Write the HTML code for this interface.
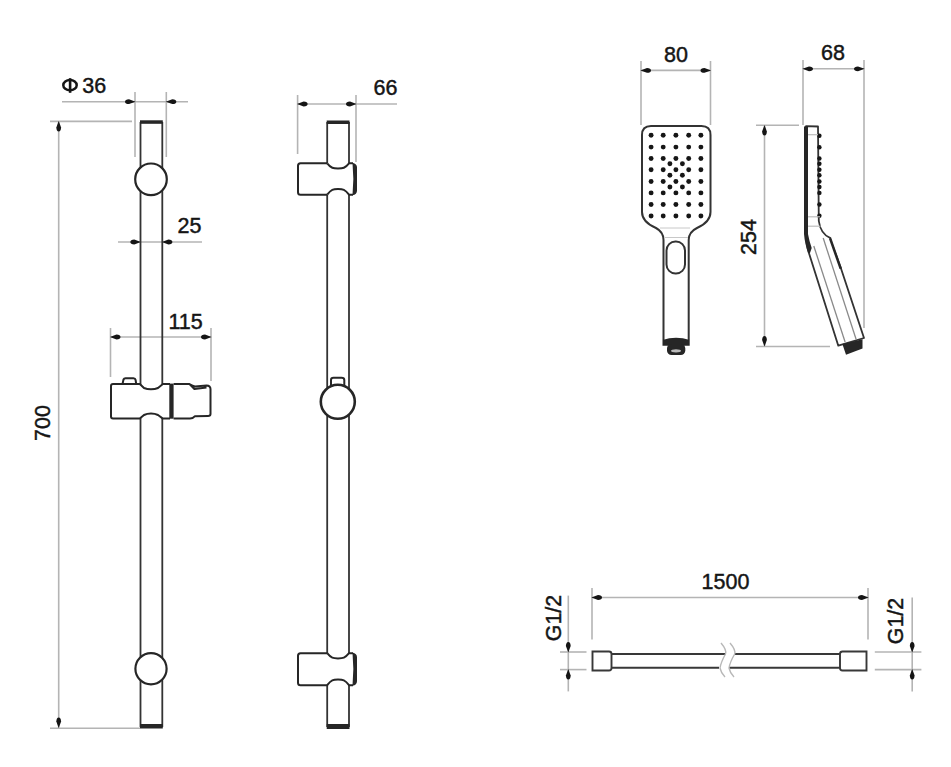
<!DOCTYPE html>
<html><head><meta charset="utf-8"><style>
html,body{margin:0;padding:0;background:#fff;width:951px;height:767px;overflow:hidden}
text{font-family:"Liberation Sans",sans-serif}
</style></head><body>
<svg width="951" height="767" viewBox="0 0 951 767" style="display:block" font-family="Liberation Sans, sans-serif">
<rect width="951" height="767" fill="#fff"/>
<line x1="62" y1="101.7" x2="188" y2="101.7" stroke="#b4b4b4" stroke-width="1.6"/>
<line x1="135" y1="92" x2="135" y2="157" stroke="#b4b4b4" stroke-width="1.6"/>
<line x1="166.3" y1="92" x2="166.3" y2="157" stroke="#b4b4b4" stroke-width="1.6"/>
<path d="M0.6,0 L-6.00,-2.4 Q-10,-2.16 -10,0 Q-10,2.16 -6.00,2.4 Z" transform="translate(135,101.7) rotate(0)" fill="#151515"/>
<path d="M0.6,0 L-6.00,-2.4 Q-10,-2.16 -10,0 Q-10,2.16 -6.00,2.4 Z" transform="translate(166.3,101.7) rotate(180)" fill="#151515"/>
<ellipse cx="70" cy="85.2" rx="6.7" ry="5.1" fill="none" stroke="#151515" stroke-width="2.5"/>
<line x1="70.1" y1="78.2" x2="70.1" y2="92.8" stroke="#151515" stroke-width="2.6"/>
<text x="82.3" y="93" font-size="21.5" text-anchor="start" fill="#151515" stroke="#151515" stroke-width="0.45">36</text>
<line x1="58.7" y1="121" x2="58.7" y2="728" stroke="#b4b4b4" stroke-width="1.6"/>
<line x1="50" y1="121.4" x2="132" y2="121.4" stroke="#b4b4b4" stroke-width="1.6"/>
<line x1="50" y1="728.2" x2="140" y2="728.2" stroke="#b4b4b4" stroke-width="1.6"/>
<path d="M0.6,0 L-6.00,-2.4 Q-10,-2.16 -10,0 Q-10,2.16 -6.00,2.4 Z" transform="translate(58.7,121.5) rotate(270)" fill="#151515"/>
<path d="M0.6,0 L-6.00,-2.4 Q-10,-2.16 -10,0 Q-10,2.16 -6.00,2.4 Z" transform="translate(58.7,727.5) rotate(90)" fill="#151515"/>
<text x="0" y="0" transform="translate(50.2,423) rotate(-90)" font-size="21.5" text-anchor="middle" fill="#151515" stroke="#151515" stroke-width="0.45">700</text>
<line x1="118" y1="242" x2="202" y2="242" stroke="#b4b4b4" stroke-width="1.6"/>
<path d="M0.6,0 L-6.00,-2.4 Q-10,-2.16 -10,0 Q-10,2.16 -6.00,2.4 Z" transform="translate(140.3,242) rotate(0)" fill="#151515"/>
<path d="M0.6,0 L-6.00,-2.4 Q-10,-2.16 -10,0 Q-10,2.16 -6.00,2.4 Z" transform="translate(162.4,242) rotate(180)" fill="#151515"/>
<text x="177.5" y="233" font-size="21.5" text-anchor="start" fill="#151515" stroke="#151515" stroke-width="0.45">25</text>
<line x1="110.5" y1="337" x2="211" y2="337" stroke="#b4b4b4" stroke-width="1.6"/>
<line x1="110.5" y1="328" x2="110.5" y2="377" stroke="#b4b4b4" stroke-width="1.6"/>
<line x1="211" y1="328" x2="211" y2="381" stroke="#b4b4b4" stroke-width="1.6"/>
<path d="M0.6,0 L-6.00,-2.4 Q-10,-2.16 -10,0 Q-10,2.16 -6.00,2.4 Z" transform="translate(110.5,337) rotate(180)" fill="#151515"/>
<path d="M0.6,0 L-6.00,-2.4 Q-10,-2.16 -10,0 Q-10,2.16 -6.00,2.4 Z" transform="translate(211,337) rotate(0)" fill="#151515"/>
<text x="168.5" y="328.5" font-size="21.5" text-anchor="start" fill="#151515" stroke="#151515" stroke-width="0.45">115</text>
<line x1="297.6" y1="104" x2="397" y2="104" stroke="#b4b4b4" stroke-width="1.6"/>
<line x1="297.6" y1="95" x2="297.6" y2="154" stroke="#b4b4b4" stroke-width="1.6"/>
<line x1="356" y1="95" x2="356" y2="162" stroke="#b4b4b4" stroke-width="1.6"/>
<path d="M0.6,0 L-6.00,-2.4 Q-10,-2.16 -10,0 Q-10,2.16 -6.00,2.4 Z" transform="translate(297.6,104) rotate(180)" fill="#151515"/>
<path d="M0.6,0 L-6.00,-2.4 Q-10,-2.16 -10,0 Q-10,2.16 -6.00,2.4 Z" transform="translate(356,104) rotate(0)" fill="#151515"/>
<text x="373.5" y="95.3" font-size="21.5" text-anchor="start" fill="#151515" stroke="#151515" stroke-width="0.45">66</text>
<line x1="641" y1="70.4" x2="710.5" y2="70.4" stroke="#b4b4b4" stroke-width="1.6"/>
<line x1="641" y1="61" x2="641" y2="125" stroke="#b4b4b4" stroke-width="1.6"/>
<line x1="710.5" y1="61" x2="710.5" y2="125" stroke="#b4b4b4" stroke-width="1.6"/>
<path d="M0.6,0 L-6.00,-2.4 Q-10,-2.16 -10,0 Q-10,2.16 -6.00,2.4 Z" transform="translate(641,70.4) rotate(180)" fill="#151515"/>
<path d="M0.6,0 L-6.00,-2.4 Q-10,-2.16 -10,0 Q-10,2.16 -6.00,2.4 Z" transform="translate(710.5,70.4) rotate(0)" fill="#151515"/>
<text x="676" y="62" font-size="21.5" text-anchor="middle" fill="#151515" stroke="#151515" stroke-width="0.45">80</text>
<line x1="803" y1="68.8" x2="864" y2="68.8" stroke="#b4b4b4" stroke-width="1.6"/>
<line x1="803" y1="60" x2="803" y2="125" stroke="#b4b4b4" stroke-width="1.6"/>
<line x1="864" y1="60" x2="864" y2="328" stroke="#b4b4b4" stroke-width="1.6"/>
<path d="M0.6,0 L-6.00,-2.4 Q-10,-2.16 -10,0 Q-10,2.16 -6.00,2.4 Z" transform="translate(803,68.8) rotate(180)" fill="#151515"/>
<path d="M0.6,0 L-6.00,-2.4 Q-10,-2.16 -10,0 Q-10,2.16 -6.00,2.4 Z" transform="translate(864,68.8) rotate(0)" fill="#151515"/>
<text x="833" y="60" font-size="21.5" text-anchor="middle" fill="#151515" stroke="#151515" stroke-width="0.45">68</text>
<line x1="764.5" y1="125" x2="764.5" y2="346" stroke="#b4b4b4" stroke-width="1.6"/>
<line x1="756" y1="125.3" x2="799" y2="125.3" stroke="#b4b4b4" stroke-width="1.6"/>
<line x1="756" y1="346.5" x2="830" y2="346.5" stroke="#b4b4b4" stroke-width="1.6"/>
<path d="M0.6,0 L-6.00,-2.4 Q-10,-2.16 -10,0 Q-10,2.16 -6.00,2.4 Z" transform="translate(764.5,125.5) rotate(270)" fill="#151515"/>
<path d="M0.6,0 L-6.00,-2.4 Q-10,-2.16 -10,0 Q-10,2.16 -6.00,2.4 Z" transform="translate(764.5,346) rotate(90)" fill="#151515"/>
<text x="0" y="0" transform="translate(755.8,237) rotate(-90)" font-size="21.5" text-anchor="middle" fill="#151515" stroke="#151515" stroke-width="0.45">254</text>
<line x1="592" y1="597.5" x2="868" y2="597.5" stroke="#b4b4b4" stroke-width="1.6"/>
<line x1="592" y1="588" x2="592" y2="639.5" stroke="#b4b4b4" stroke-width="1.6"/>
<line x1="868" y1="588" x2="868" y2="639.5" stroke="#b4b4b4" stroke-width="1.6"/>
<path d="M0.6,0 L-6.00,-2.4 Q-10,-2.16 -10,0 Q-10,2.16 -6.00,2.4 Z" transform="translate(592,597.5) rotate(180)" fill="#151515"/>
<path d="M0.6,0 L-6.00,-2.4 Q-10,-2.16 -10,0 Q-10,2.16 -6.00,2.4 Z" transform="translate(868,597.5) rotate(0)" fill="#151515"/>
<text x="725.5" y="589.3" font-size="21.5" text-anchor="middle" fill="#151515" stroke="#151515" stroke-width="0.45">1500</text>
<line x1="568.3" y1="595.6" x2="568.3" y2="691.4" stroke="#b4b4b4" stroke-width="1.6"/>
<line x1="560" y1="652" x2="586.5" y2="652" stroke="#b4b4b4" stroke-width="1.6"/>
<line x1="560" y1="669.6" x2="586.5" y2="669.6" stroke="#b4b4b4" stroke-width="1.6"/>
<path d="M0.6,0 L-6.00,-2.4 Q-10,-2.16 -10,0 Q-10,2.16 -6.00,2.4 Z" transform="translate(568.3,652) rotate(90)" fill="#151515"/>
<path d="M0.6,0 L-6.00,-2.4 Q-10,-2.16 -10,0 Q-10,2.16 -6.00,2.4 Z" transform="translate(568.3,669.6) rotate(270)" fill="#151515"/>
<text x="0" y="0" transform="translate(560.6,618) rotate(-90)" font-size="21.5" text-anchor="middle" fill="#151515" stroke="#151515" stroke-width="0.45">G1/2</text>
<line x1="912.2" y1="597.4" x2="912.2" y2="691.5" stroke="#b4b4b4" stroke-width="1.6"/>
<line x1="874.8" y1="652" x2="921.4" y2="652" stroke="#b4b4b4" stroke-width="1.6"/>
<line x1="874.8" y1="669.6" x2="921.4" y2="669.6" stroke="#b4b4b4" stroke-width="1.6"/>
<path d="M0.6,0 L-6.00,-2.4 Q-10,-2.16 -10,0 Q-10,2.16 -6.00,2.4 Z" transform="translate(912.2,652) rotate(90)" fill="#151515"/>
<path d="M0.6,0 L-6.00,-2.4 Q-10,-2.16 -10,0 Q-10,2.16 -6.00,2.4 Z" transform="translate(912.2,669.6) rotate(270)" fill="#151515"/>
<text x="0" y="0" transform="translate(903,621) rotate(-90)" font-size="21.5" text-anchor="middle" fill="#151515" stroke="#151515" stroke-width="0.45">G1/2</text>
<g stroke="#333" stroke-width="1.8" fill="none">
<path d="M140.5,122 V175 M162.3,122 V175"/>
<path d="M140.5,184 V385 M162.3,185 V385"/>
<path d="M140.5,418 V665 M162.3,418 V665"/>
<path d="M140.5,673 V727 M162.3,673 V727"/>
</g>
<rect x="140.0" y="120.3" width="22.80000000000001" height="3.5" fill="#262626"/>
<rect x="140.0" y="724" width="22.80000000000001" height="4.5" fill="#262626"/>
<circle cx="151" cy="179.3" r="15.8" fill="#fff" stroke="#262626" stroke-width="2.2"/>
<circle cx="151" cy="668.7" r="15.6" fill="#fff" stroke="#262626" stroke-width="2.2"/>
<g stroke="#262626" stroke-width="2" fill="none" stroke-linejoin="round">
<path d="M113,384 H139.8 L144,388 Q147,389.3 151,389.3 Q155,389.3 158,388 L162.9,384 H170 M113,384 Q111,384 111,386 V416.6 Q111,418.6 113,418.6 H139.8 L144,415 Q147,413.5 151,413.5 Q155,413.5 158,415 L162.9,418.6 H170"/>
<path d="M122.5,384 L123.5,379.5 Q124,378.3 125.5,378.3 H133.5 Q135.3,378.3 135.6,380 L136.2,384"/>
<path d="M173.6,384 H189.4 Q192,386.5 194.4,389 L206.5,387.6 M189.4,384.2 Q193,386 195,386.5 L206.5,385.4 Q210.5,385.5 210.5,389 V414 Q210.5,416 208,416 L195,416.2 Q193,418.6 190,418.6 H173.6"/>
</g>
<rect x="169.3" y="383.6" width="4.3" height="35.1" fill="#262626"/>
<g stroke="#333" stroke-width="1.8" fill="none">
<path d="M327.2,122 V163 M349,122 V163"/>
<path d="M327.2,195 V395 M349,195 V395"/>
<path d="M327.2,408 V653 M349,408 V653"/>
<path d="M327.2,685 V727 M349,685 V727"/>
</g>
<rect x="326.7" y="120.5" width="22.80000000000001" height="3.5" fill="#262626"/>
<rect x="326.7" y="724" width="22.80000000000001" height="5" fill="#262626"/>
<g stroke="#262626" stroke-width="2" fill="none" stroke-linejoin="round">
<path d="M327.2,163.3 H300.5 Q298,163.3 298,165.8 V192.2 Q298,194.7 300.5,194.7 H327.2"/>
<path d="M327.2,163.3 C331.2,168.3 333.2,168.5 338,168.5 C343,168.5 345,168.3 349,163.3 H353"/>
<path d="M327.2,194.7 C331.2,189.2 333.2,189.0 338,189.0 C343,189.0 345,189.2 349,194.7 H353"/>
</g>
<path d="M352.5,162.70000000000002 Q357,163.8 357,167.3 V190.7 Q357,194.2 352.5,195.29999999999998 Q354.2,179.0 352.5,162.70000000000002 Z" fill="#262626"/>
<g stroke="#262626" stroke-width="2" fill="none" stroke-linejoin="round">
<path d="M327.2,653.2 H300.5 Q298,653.2 298,655.7 V682.7 Q298,685.2 300.5,685.2 H327.2"/>
<path d="M327.2,653.2 C331.2,658.2 333.2,658.4000000000001 338,658.4000000000001 C343,658.4000000000001 345,658.2 349,653.2 H353"/>
<path d="M327.2,685.2 C331.2,679.7 333.2,679.5 338,679.5 C343,679.5 345,679.7 349,685.2 H353"/>
</g>
<path d="M352.5,652.6 Q357,653.7 357,657.2 V681.2 Q357,684.7 352.5,685.8000000000001 Q354.2,669.2 352.5,652.6 Z" fill="#262626"/>
<path d="M331,386 V380 Q331,377.8 333.5,377.8 H341.5 Q344.3,377.8 344.3,380 V386" stroke="#262626" stroke-width="2" fill="none"/>
<circle cx="337.8" cy="401.8" r="17" fill="#fff" stroke="#262626" stroke-width="2.6"/>
<g stroke="#333" stroke-width="2" fill="none" stroke-linejoin="round">
<path d="M663.5,340 V240 Q663.5,232 656,228 Q642,222 642,212 V135 Q642,126 651,126 H701.5 Q710.5,126 710.5,135 V212 Q710.5,222 697,228 Q688.7,232 688.7,240 V340"/>
<rect x="666.5" y="241.5" width="18.5" height="32" rx="9" ry="9"/>
</g>
<line x1="660" y1="228" x2="690" y2="228" stroke="#c8c8c8" stroke-width="1"/>
<line x1="665" y1="237.5" x2="688" y2="237.5" stroke="#c8c8c8" stroke-width="1"/>
<circle cx="651.1" cy="135.3" r="2.45" fill="#161616"/>
<circle cx="663.2" cy="135.3" r="2.45" fill="#161616"/>
<circle cx="675.9" cy="135.3" r="2.45" fill="#161616"/>
<circle cx="688.7" cy="135.3" r="2.45" fill="#161616"/>
<circle cx="700.9" cy="135.3" r="2.45" fill="#161616"/>
<circle cx="651.1" cy="147.1" r="2.45" fill="#161616"/>
<circle cx="663.2" cy="147.1" r="2.45" fill="#161616"/>
<circle cx="675.9" cy="147.1" r="2.45" fill="#161616"/>
<circle cx="688.7" cy="147.1" r="2.45" fill="#161616"/>
<circle cx="700.9" cy="147.1" r="2.45" fill="#161616"/>
<circle cx="651.1" cy="158.5" r="2.45" fill="#161616"/>
<circle cx="663.2" cy="158.5" r="2.45" fill="#161616"/>
<circle cx="675.9" cy="158.5" r="2.45" fill="#161616"/>
<circle cx="688.7" cy="158.5" r="2.45" fill="#161616"/>
<circle cx="700.9" cy="158.5" r="2.45" fill="#161616"/>
<circle cx="651.1" cy="169.8" r="2.45" fill="#161616"/>
<circle cx="663.2" cy="169.8" r="2.45" fill="#161616"/>
<circle cx="675.9" cy="169.8" r="2.45" fill="#161616"/>
<circle cx="688.7" cy="169.8" r="2.45" fill="#161616"/>
<circle cx="700.9" cy="169.8" r="2.45" fill="#161616"/>
<circle cx="651.1" cy="181.5" r="2.45" fill="#161616"/>
<circle cx="663.2" cy="181.5" r="2.45" fill="#161616"/>
<circle cx="675.9" cy="181.5" r="2.45" fill="#161616"/>
<circle cx="688.7" cy="181.5" r="2.45" fill="#161616"/>
<circle cx="700.9" cy="181.5" r="2.45" fill="#161616"/>
<circle cx="651.1" cy="192.9" r="2.45" fill="#161616"/>
<circle cx="663.2" cy="192.9" r="2.45" fill="#161616"/>
<circle cx="675.9" cy="192.9" r="2.45" fill="#161616"/>
<circle cx="688.7" cy="192.9" r="2.45" fill="#161616"/>
<circle cx="700.9" cy="192.9" r="2.45" fill="#161616"/>
<circle cx="651.1" cy="204.5" r="2.45" fill="#161616"/>
<circle cx="663.2" cy="204.5" r="2.45" fill="#161616"/>
<circle cx="675.9" cy="204.5" r="2.45" fill="#161616"/>
<circle cx="688.7" cy="204.5" r="2.45" fill="#161616"/>
<circle cx="700.9" cy="204.5" r="2.45" fill="#161616"/>
<circle cx="651.1" cy="216" r="2.45" fill="#161616"/>
<circle cx="663.2" cy="216" r="2.45" fill="#161616"/>
<circle cx="675.9" cy="216" r="2.45" fill="#161616"/>
<circle cx="688.7" cy="216" r="2.45" fill="#161616"/>
<circle cx="700.9" cy="216" r="2.45" fill="#161616"/>
<circle cx="669.9" cy="163.8" r="2.45" fill="#161616"/>
<circle cx="682.4" cy="163.8" r="2.45" fill="#161616"/>
<circle cx="669.9" cy="175.2" r="2.45" fill="#161616"/>
<circle cx="682.4" cy="175.2" r="2.45" fill="#161616"/>
<circle cx="669.9" cy="187" r="2.45" fill="#161616"/>
<circle cx="682.4" cy="187" r="2.45" fill="#161616"/>
<path d="M662.5,345.8 V340 Q676,335.5 689.7,340 V345.8 Z" fill="#262626"/>
<rect x="667" y="344" width="18.3" height="11" rx="4.5" fill="#262626"/>
<ellipse cx="676" cy="350.8" rx="5" ry="1.6" fill="#bbb"/>
<g stroke="#333" stroke-width="1.8" fill="none" stroke-linejoin="round">
<path d="M806,126.2 L818,126.5 L818.8,221 Q820.5,234 830.5,238.2 L841,268.5 L864,338 L838.3,345.7 L808.6,252 Q806.5,245 805.8,234 Z"/>
</g>
<path d="M804,126.4 L808,126 L808,234 Q809,240 811.7,248 L810,253 L808.2,253 Q805,245 804,234 Z" fill="#262626"/>
<path d="M830.5,237.5 L842,268.5 L839.5,269 L829,239 Z" fill="#262626"/>
<circle cx="819.4" cy="135.8" r="2.2" fill="#161616"/>
<circle cx="819.4" cy="147.3" r="2.2" fill="#161616"/>
<circle cx="819.4" cy="158.5" r="2.2" fill="#161616"/>
<circle cx="819.4" cy="169.8" r="2.2" fill="#161616"/>
<circle cx="819.4" cy="181.5" r="2.2" fill="#161616"/>
<circle cx="819.4" cy="192.9" r="2.2" fill="#161616"/>
<circle cx="819.4" cy="204.5" r="2.2" fill="#161616"/>
<circle cx="819.4" cy="215.8" r="2.2" fill="#161616"/>
<circle cx="819.4" cy="163.8" r="2.2" fill="#161616"/>
<circle cx="819.4" cy="175.2" r="2.2" fill="#161616"/>
<circle cx="819.4" cy="187" r="2.2" fill="#161616"/>
<line x1="808" y1="134.7" x2="818" y2="134.7" stroke="#bdbdbd" stroke-width="1.2"/>
<line x1="808" y1="216.8" x2="820" y2="216.8" stroke="#bdbdbd" stroke-width="1.2"/>
<line x1="808" y1="226.2" x2="820.5" y2="226.2" stroke="#bdbdbd" stroke-width="1.2"/>
<line x1="813.8" y1="246" x2="845.1" y2="342" stroke="#8a8a8a" stroke-width="1.3"/>
<line x1="823.2" y1="238" x2="856.1" y2="339.3" stroke="#8a8a8a" stroke-width="1.3"/>
<path d="M842.4,343.9 L862.5,339.3 L862.5,348.4 L846,354.8 Z" fill="#262626"/>
<g stroke="#383838" stroke-width="1.9" fill="none">
<path d="M592.5,651.5 H609 Q611.5,651.5 611.5,654 V668 Q611.5,670.5 609,670.5 H592.5 Z"/>
<path d="M866.5,651.5 H842.5 Q840,651.5 840,654 V668 Q840,670.5 842.5,670.5 H866.5 Z"/>
<path d="M611.5,654 H725.5 M734.7,654 H840 M611.5,667.8 H719 M729,667.8 H840"/>
</g>
<path d="M721,643 Q727,650 725.5,654 Q721,662 720,668 Q721,673 725,677 M730,643 Q736,650 734.7,654 Q730,662 729,668 Q730,673 734,677" stroke="#b8b8b8" stroke-width="1.4" fill="none"/>
</svg>
</body></html>
